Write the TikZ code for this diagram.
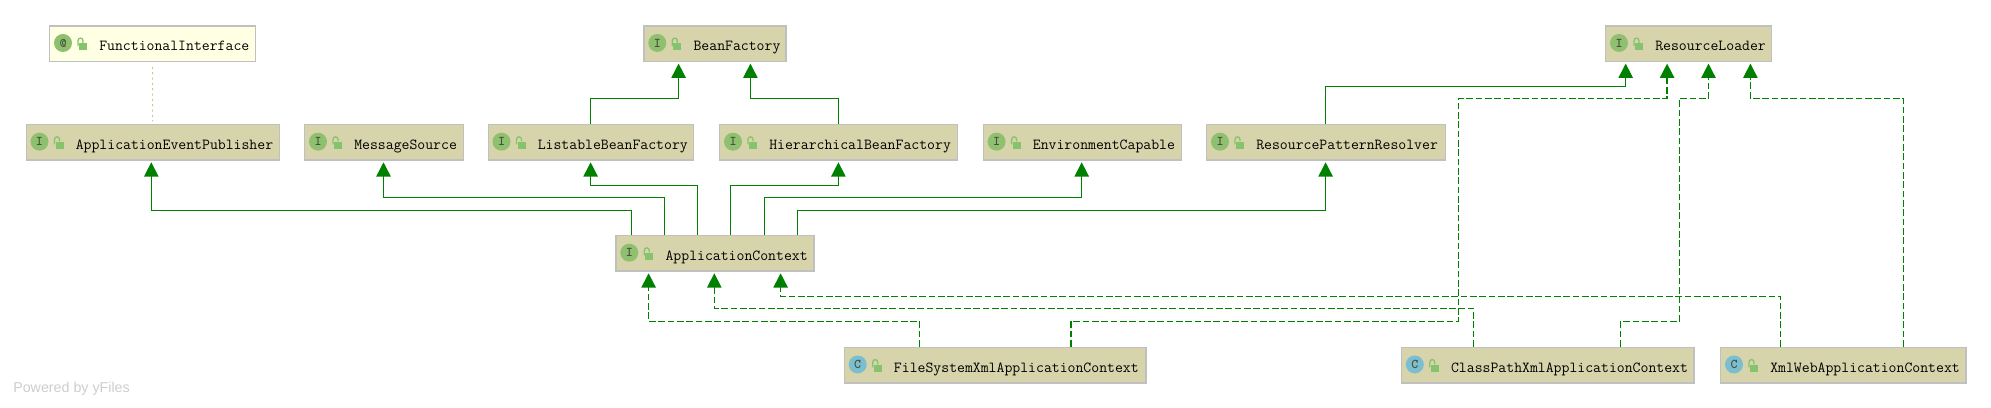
\documentclass[tikz,border=0pt]{standalone}
\usepackage{xcolor}
\usepackage{fontspec}
\usepackage{tikz}
\usetikzlibrary{arrows.meta}
\newfontfamily\poweredfont{Liberation Sans}
\definecolor{boxfill}{RGB}{215,212,172}
\definecolor{notefill}{RGB}{255,255,228}
\definecolor{boxline}{RGB}{192,192,192}
\definecolor{linkgreen}{RGB}{0,128,0}
\definecolor{ifacegreen}{RGB}{143,192,112}
\definecolor{classblue}{RGB}{122,190,208}
\definecolor{lockgreen}{RGB}{133,196,108}
\definecolor{markgrey}{RGB}{70,80,60}
\tikzset{
	typebox/.style={draw=boxline,line width=1.1pt,fill=boxfill,anchor=north west,inner sep=0pt,minimum height=26.6pt},
	typelabel/.style={anchor=base west,inner sep=0pt,xshift=37.5pt,yshift=-5.3pt,font=\ttfamily\fontsize{11.5}{12}\selectfont},
	typemark/.style={circle,inner sep=0pt,minimum size=13.5pt,text=markgrey,font=\ttfamily\bfseries\fontsize{10}{10}\selectfont},
	extends/.style={draw=linkgreen,line width=1.1pt,shorten >=1pt,-{Triangle[width=10.7pt,length=10.7pt]}},
	implements/.style={extends,dash pattern=on 5pt off 2pt},
	annotated/.style={draw={rgb,255:red,200;green,200;blue,160},line width=0.75pt,dash pattern=on 1.5pt off 2.5pt,shorten >=2pt,shorten <=3.5pt}
}
% name, left, top, width, mark, mark colour, text
\newcommand{\typenode}[7]{
	\node [typebox,minimum width=#4*0.75pt] (#1) at (#2,#3) {};
	\node [typemark,fill=#6] (#1-mark) at ([xshift=10.5pt,yshift=-0.6pt]#1.west) {#5};
	\node [typelabel] (#1-text) at (#1.west) {#7};
	\begin{scope}[shift={(#1.west)}]
		\fill [lockgreen] (30,-0.5) rectangle (38,6.5);
		\draw [lockgreen,line width=1pt] (29,2) -- (29,-3) .. controls (29,-6.5) and (34,-6.5) .. (34,-3) -- (34,-1);
	\end{scope}
}
\begin{document}
\begin{tikzpicture}[x=0.75pt,y=0.75pt,yscale=-1,xscale=1]
	\useasboundingbox (0,0) rectangle (1991,407);
	
	% Top row
	\begin{scope}[typebox/.append style={fill=notefill}]
		\typenode{functional}{49}{25.3}{205.5}{@}{ifacegreen}{FunctionalInterface}
	\end{scope}
	\typenode{beanfactory}{643.3}{25.3}{142}{I}{ifacegreen}{BeanFactory}
	\typenode{resourceloader}{1605}{25.3}{165.7}{I}{ifacegreen}{ResourceLoader}
	% Middle row
	\typenode{publisher}{25.5}{124}{253}{I}{ifacegreen}{ApplicationEventPublisher}
	\typenode{messagesource}{304}{124}{158.5}{I}{ifacegreen}{MessageSource}
	\typenode{listable}{487.5}{124}{205.5}{I}{ifacegreen}{ListableBeanFactory}
	\typenode{hierarchical}{719}{124}{238}{I}{ifacegreen}{HierarchicalBeanFactory}
	\typenode{environment}{982.6}{124}{198.2}{I}{ifacegreen}{EnvironmentCapable}
	\typenode{patternresolver}{1206}{124}{238.6}{I}{ifacegreen}{ResourcePatternResolver}
	% Context
	\typenode{context}{615.3}{235}{198}{I}{ifacegreen}{ApplicationContext}
	% Bottom row
	\typenode{filesystem}{843.7}{346.8}{301.7}{C}{classblue}{FileSystemXmlApplicationContext}
	\typenode{classpath}{1400.8}{346.8}{292.6}{C}{classblue}{ClassPathXmlApplicationContext}
	\typenode{xmlweb}{1720}{346.8}{245.2}{C}{classblue}{XmlWebApplicationContext}
	
	% Text Node
	\node [anchor=base west,inner sep=0pt,text={rgb,255:red,205;green,205;blue,205},font=\poweredfont\fontsize{10.7}{12}\selectfont] (powered) at (13,392) {Powered by yFiles};
	
	%Annotation
	\draw [annotated] (functional.south) -- (publisher.north);
	
	%Straight Lines: context to its parents
	\draw [extends] (context.north -| 631.3,0) |- (151.3,210.3) -- (publisher.south -| 151.3,0);
	\draw [extends] (context.north -| 664.3,0) |- (383.5,197.3) -- (messagesource.south -| 383.5,0);
	\draw [extends] (context.north -| 697.5,0) |- (590.6,185.3) -- (listable.south -| 590.6,0);
	\draw [extends] (context.north -| 730.4,0) |- (838.4,185.3) -- (hierarchical.south -| 838.4,0);
	\draw [extends] (context.north -| 764.3,0) |- (1081.7,197.3) -- (environment.south -| 1081.7,0);
	\draw [extends] (context.north -| 797.3,0) |- (1325.6,210.3) -- (patternresolver.south -| 1325.6,0);
	%Straight Lines: upper row
	\draw [extends] (listable.north -| 590.6,0) |- (678.6,98.3) -- (beanfactory.south -| 678.6,0);
	\draw [extends] (hierarchical.north -| 838.4,0) |- (750.4,98.3) -- (beanfactory.south -| 750.4,0);
	\draw [extends] (patternresolver.north -| 1325.6,0) |- (1625.7,86.3) -- (resourceloader.south -| 1625.7,0);
	
	%Dashed Lines: to the context
	\draw [implements] (filesystem.north -| 919.6,0) |- (648.6,321.3) -- (context.south -| 648.6,0);
	\draw [implements] (classpath.north -| 1473.5,0) |- (714.3,308.3) -- (context.south -| 714.3,0);
	\draw [implements] (xmlweb.north -| 1780.7,0) |- (780.6,296.3) -- (context.south -| 780.6,0);
	%Dashed Lines: to the loader
	\draw [implements] (filesystem.north -| 1070.8,0) |- (1458.5,321.3) |- (1667.1,98.3) -- (resourceloader.south -| 1667.1,0);
	\draw [implements] (classpath.north -| 1620.7,0) |- (1679.5,321.3) |- (1708.5,98.3) -- (resourceloader.south -| 1708.5,0);
	\draw [implements] (xmlweb.north -| 1903.3,0) |- (1750.4,98.3) -- (resourceloader.south -| 1750.4,0);
\end{tikzpicture}
\end{document}
